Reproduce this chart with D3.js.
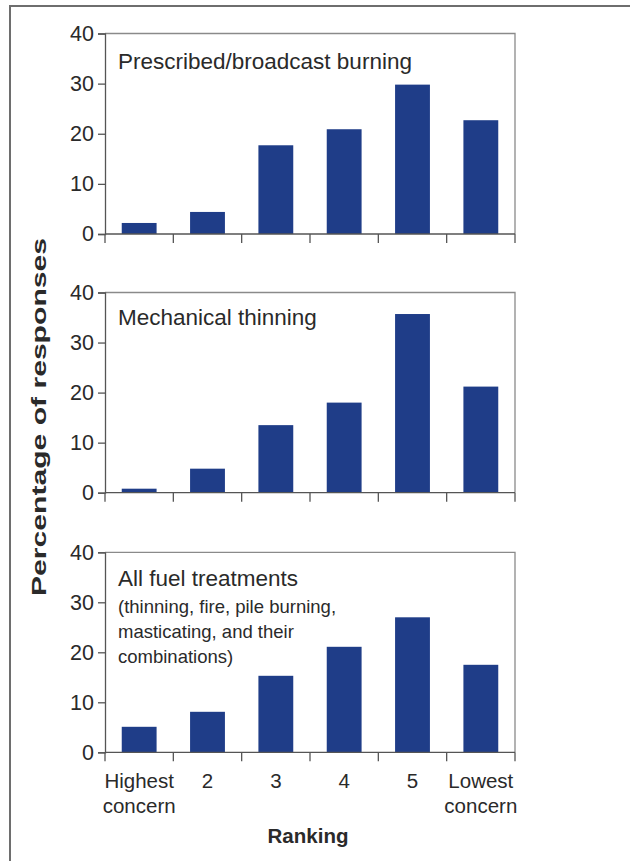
<!DOCTYPE html>
<html><head><meta charset="utf-8">
<script src="https://cdn.jsdelivr.net/npm/d3@7"></script>
<style>body{margin:0;background:#fff}svg{display:block}</style>
</head><body><svg id="c" width="630" height="861"></svg>
<script>
const categories = ["Highest concern","2","3","4","5","Lowest concern"];
const yTicks = [0,10,20,30,40];
const burning = [2.2, 4.4, 17.7, 20.9, 29.8, 22.7];
const thinning = [0.8, 4.8, 13.5, 18.0, 35.7, 21.2];
const allFuel = [5.1, 8.1, 15.3, 21.1, 27.0, 17.5];
const panelTitles = ["Prescribed/broadcast burning","Mechanical thinning","All fuel treatments"];
const subtitleLines = ["(thinning, fire, pile burning,","masticating, and their","combinations)"];
const yTitle = "Percentage of responses";
const xTitle = "Ranking";

const svg = d3.select("#c");
const font = "'Liberation Sans', Arial, sans-serif";
const barColor = "#1f3d88";
const textColor = "#2a2a2a";

// outer frame
svg.append("path").attr("d","M10,861 V6 H630").attr("fill","none").attr("stroke","#6e6e6e").attr("stroke-width",2);

const x = d3.scaleBand().domain(categories).range([105,515]).paddingInner(0.49).paddingOuter(0.245);
const panels = [
  {data: burning, top: 33.5, bottom: 234},
  {data: thinning, top: 292.5, bottom: 492.7},
  {data: allFuel, top: 552.3, bottom: 752.3}
];

panels.forEach((p,i)=>{
  const y = d3.scaleLinear().domain([0,40]).range([p.bottom,p.top]);
  const g = svg.append("g");
  g.append("path").attr("d",`M105,${p.top} H515 V${p.bottom}`).attr("fill","none").attr("stroke","#8a8a8a").attr("stroke-width",1.3);
  g.selectAll("rect.bar").data(p.data).join("rect").attr("class","bar")
    .attr("x",(d,j)=>x(categories[j])).attr("width",x.bandwidth())
    .attr("y",d=>y(d)).attr("height",d=>y(0)-y(d)).attr("fill",barColor);
  const ya = g.append("g").attr("transform","translate(105,0)")
    .call(d3.axisLeft(y).tickValues(yTicks).tickSize(7).tickPadding(4));
  ya.select(".domain").attr("stroke","#555").attr("stroke-width",1.3);
  ya.selectAll(".tick line").attr("stroke","#555").attr("stroke-width",1.3);
  ya.selectAll("text").attr("font-family",font).attr("font-size",21.5).attr("fill",textColor);
  g.append("line").attr("x1",105).attr("x2",515).attr("y1",p.bottom).attr("y2",p.bottom).attr("stroke","#555").attr("stroke-width",1.3);
  const edges = categories.map(c=>x(c)-x.step()*x.paddingInner()/2).concat([515]);
  edges[0]=105;
  g.selectAll("line.xt").data(edges).join("line").attr("class","xt")
    .attr("x1",d=>d).attr("x2",d=>d).attr("y1",p.bottom).attr("y2",p.bottom+9)
    .attr("stroke","#555").attr("stroke-width",1.3);
  g.append("text").attr("x",118).attr("y",[69,325,586][i]).text(panelTitles[i])
    .attr("font-family",font).attr("font-size",22.5).attr("fill",textColor);
  if(i===2){
    g.selectAll("text.sub").data(subtitleLines).join("text").attr("class","sub")
      .attr("x",118).attr("y",(d,k)=>613+k*25).text(d=>d)
      .attr("font-family",font).attr("font-size",18.5).attr("fill",textColor);
    categories.forEach(c=>{
      const parts = c.split(" ");
      const t = g.append("text").attr("x",x(c)+x.bandwidth()/2).attr("y",788)
        .attr("text-anchor","middle").attr("font-family",font).attr("font-size",20.5).attr("fill",textColor);
      parts.forEach((s,k)=>t.append("tspan").attr("x",x(c)+x.bandwidth()/2).attr("dy",k===0?0:25).text(s));
    });
  }
});

svg.append("text").attr("x",308).attr("y",843).attr("text-anchor","middle")
  .attr("font-family",font).attr("font-size",20.5).attr("font-weight","bold").attr("fill",textColor).text(xTitle);
svg.append("text").attr("transform","translate(46,417) rotate(-90)").attr("text-anchor","middle")
  .attr("textLength",358).attr("lengthAdjust","spacingAndGlyphs")
  .attr("font-family",font).attr("font-size",20).attr("font-weight","bold").attr("fill",textColor).text(yTitle);
</script></body></html>
